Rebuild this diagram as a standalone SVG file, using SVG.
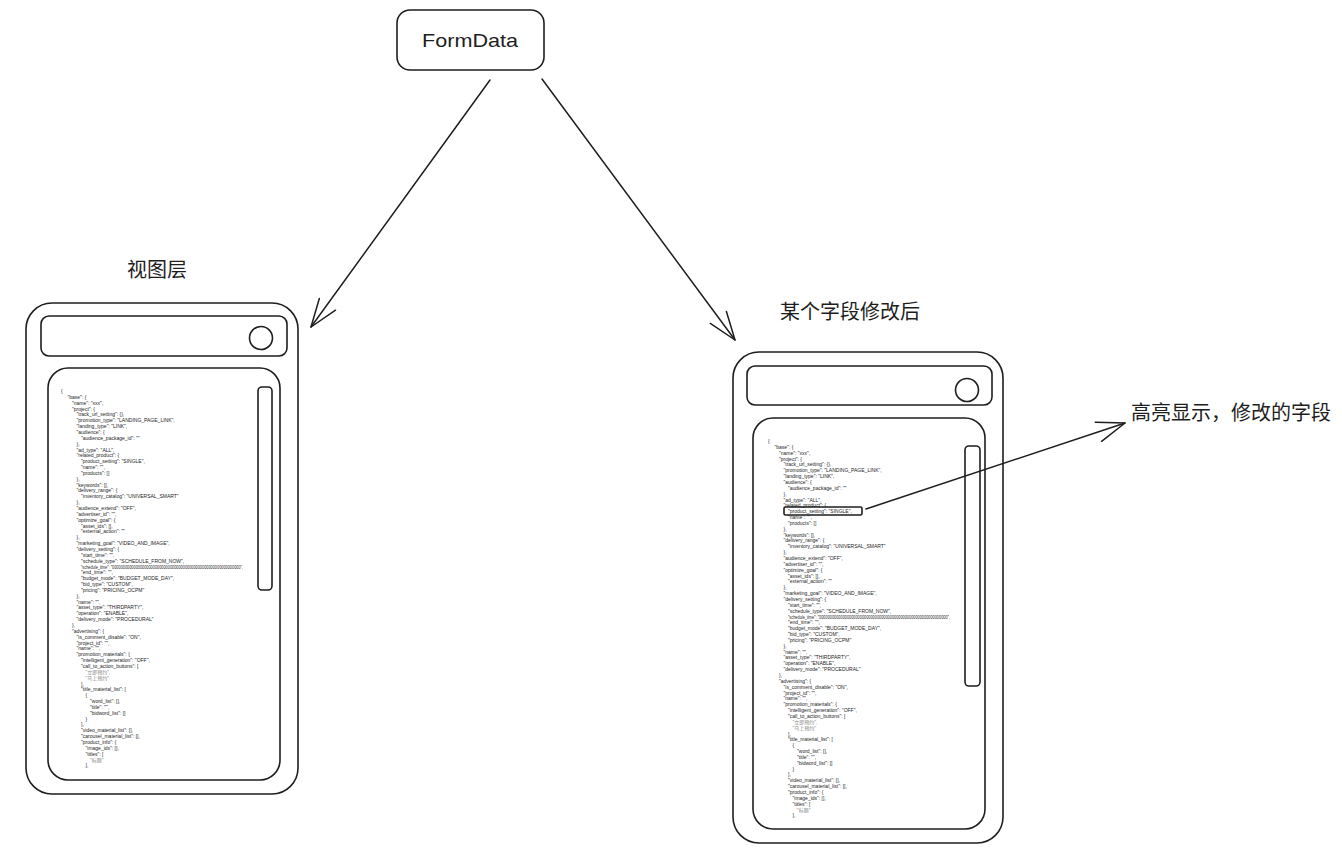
<svg xmlns="http://www.w3.org/2000/svg" xmlns:xlink="http://www.w3.org/1999/xlink" width="1342" height="853" viewBox="0 0 1342 853">
<style>
.s{fill:none;stroke:#1e1e1e;stroke-width:1.6;stroke-linecap:round;stroke-linejoin:round}
.lbl{font-family:"Liberation Sans","Noto Sans CJK SC",sans-serif;font-size:20px;fill:#1e1e1e}
.code{font-family:"Liberation Sans","Noto Sans CJK SC",sans-serif;font-size:5px;fill:#1e1e1e}
.cjk{fill:#888}
.conn{fill:none;stroke:#1e1e1e;stroke-width:1.5;stroke-linecap:round}
</style>
<defs>
<marker id="ah" markerUnits="userSpaceOnUse" viewBox="-32 -14 36 28" refX="0" refY="0" markerWidth="36" markerHeight="28" orient="auto">
<path d="M-28,-10 L0,0 L-28,10" fill="none" stroke="#1e1e1e" stroke-width="1.5" stroke-linecap="round" stroke-linejoin="round"/>
</marker>
<g id="json" class="code">
<text>
<tspan x="61" y="393">{</tspan>
<tspan x="67.5" dy="5.85">"base": {</tspan>
<tspan x="72" dy="5.85">"name": "xxx",</tspan>
<tspan x="72" dy="5.85">"project": {</tspan>
<tspan x="76.5" dy="5.85">"track_url_setting": {},</tspan>
<tspan x="76.5" dy="5.85">"promotion_type": "LANDING_PAGE_LINK",</tspan>
<tspan x="76.5" dy="5.85">"landing_type": "LINK",</tspan>
<tspan x="76.5" dy="5.85">"audience": {</tspan>
<tspan x="81" dy="5.85">"audience_package_id": ""</tspan>
<tspan x="76.5" dy="5.85">},</tspan>
<tspan x="76.5" dy="5.85">"ad_type": "ALL",</tspan>
<tspan x="76.5" dy="5.85">"related_product": {</tspan>
<tspan x="81" dy="5.85">"product_setting": "SINGLE",</tspan>
<tspan x="81" dy="5.85">"name": "",</tspan>
<tspan x="81" dy="5.85">"products": []</tspan>
<tspan x="76.5" dy="5.85">},</tspan>
<tspan x="76.5" dy="5.85">"keywords": [],</tspan>
<tspan x="76.5" dy="5.85">"delivery_range": {</tspan>
<tspan x="81" dy="5.85">"inventory_catalog": "UNIVERSAL_SMART"</tspan>
<tspan x="76.5" dy="5.85">},</tspan>
<tspan x="76.5" dy="5.85">"audience_extend": "OFF",</tspan>
<tspan x="76.5" dy="5.85">"advertiser_id": "",</tspan>
<tspan x="76.5" dy="5.85">"optimize_goal": {</tspan>
<tspan x="81" dy="5.85">"asset_ids": [],</tspan>
<tspan x="81" dy="5.85">"external_action": ""</tspan>
<tspan x="76.5" dy="5.85">},</tspan>
<tspan x="76.5" dy="5.85">"marketing_goal": "VIDEO_AND_IMAGE",</tspan>
<tspan x="76.5" dy="5.85">"delivery_setting": {</tspan>
<tspan x="81" dy="5.85">"start_time": "",</tspan>
<tspan x="81" dy="5.85">"schedule_type": "SCHEDULE_FROM_NOW",</tspan>
<tspan x="81" dy="5.85" textLength="162" lengthAdjust="spacingAndGlyphs">"schedule_time": "000000000000000000000000000000000000000000000000000000000000",</tspan>
<tspan x="81" dy="5.85">"end_time": "",</tspan>
<tspan x="81" dy="5.85">"budget_mode": "BUDGET_MODE_DAY",</tspan>
<tspan x="81" dy="5.85">"bid_type": "CUSTOM",</tspan>
<tspan x="81" dy="5.85">"pricing": "PRICING_OCPM"</tspan>
<tspan x="76.5" dy="5.85">},</tspan>
<tspan x="76.5" dy="5.85">"name": "",</tspan>
<tspan x="76.5" dy="5.85">"asset_type": "THIRDPARTY",</tspan>
<tspan x="76.5" dy="5.85">"operation": "ENABLE",</tspan>
<tspan x="76.5" dy="5.85">"delivery_mode": "PROCEDURAL"</tspan>
<tspan x="72" dy="5.85">},</tspan>
<tspan x="72" dy="5.85">"advertising": {</tspan>
<tspan x="76.5" dy="5.85">"is_comment_disable": "ON",</tspan>
<tspan x="76.5" dy="5.85">"project_id": "",</tspan>
<tspan x="76.5" dy="5.85">"name": "",</tspan>
<tspan x="76.5" dy="5.85">"promotion_materials": {</tspan>
<tspan x="81" dy="5.85">"intelligent_generation": "OFF",</tspan>
<tspan x="81" dy="5.85">"call_to_action_buttons": [</tspan>
<tspan x="85.5" dy="5.85" class="cjk">"立即预约",</tspan>
<tspan x="85.5" dy="5.85" class="cjk">"马上预约"</tspan>
<tspan x="81" dy="5.85">],</tspan>
<tspan x="81" dy="5.85">"title_material_list": [</tspan>
<tspan x="85.5" dy="5.85">{</tspan>
<tspan x="90" dy="5.85">"word_list": [],</tspan>
<tspan x="90" dy="5.85">"title": "",</tspan>
<tspan x="90" dy="5.85">"bidword_list": []</tspan>
<tspan x="85.5" dy="5.85">}</tspan>
<tspan x="81" dy="5.85">],</tspan>
<tspan x="81" dy="5.85">"video_material_list": [],</tspan>
<tspan x="81" dy="5.85">"carousel_material_list": [],</tspan>
<tspan x="81" dy="5.85">"product_info": {</tspan>
<tspan x="85.5" dy="5.85">"image_ids": [],</tspan>
<tspan x="85.5" dy="5.85">"titles": [</tspan>
<tspan x="90" dy="5.85" class="cjk">"标题"</tspan>
<tspan x="85.5" dy="5.85">],</tspan>
</text>
</g>
</defs>
<rect width="1342" height="853" fill="#ffffff"/>

<g id="formdata">
<rect class="s" x="397" y="10" width="147" height="60" rx="13"/>
<text x="470" y="47" text-anchor="middle" font-family="Liberation Sans, sans-serif" font-size="19" fill="#1e1e1e" textLength="96" lengthAdjust="spacingAndGlyphs">FormData</text>
</g>

<g id="label-view">
<text class="lbl" x="127" y="277">视图层</text>
</g>

<g id="label-after">
<text class="lbl" x="780" y="319">某个字段修改后</text>
</g>

<g id="label-highlight">
<text class="lbl" x="1131" y="420">高亮显示，修改的字段</text>
</g>

<g id="phone-left">
<rect class="s" x="26" y="303" width="272" height="491" rx="26"/>
<rect class="s" x="41" y="316" width="246" height="40" rx="8"/>
<circle class="s" cx="261" cy="338" r="11.5"/>
<rect class="s" x="48" y="368" width="232" height="412" rx="20"/>
<rect class="s" x="258" y="387" width="14" height="203" rx="4"/>
<use xlink:href="#json" href="#json"/>
</g>

<g id="phone-right">
<rect class="s" x="733" y="352" width="270" height="491" rx="26"/>
<rect class="s" x="747" y="366" width="245" height="39" rx="8"/>
<circle class="s" cx="967" cy="390" r="11.5"/>
<rect class="s" x="753" y="418" width="232" height="411" rx="20"/>
<rect class="s" x="965" y="446" width="15" height="240" rx="4"/>
<use xlink:href="#json" href="#json" transform="translate(707,50)"/>
<rect class="s" x="784" y="507" width="78" height="8" rx="1.5" stroke-width="1.2"/>
</g>

<g id="connectors">
<path class="conn" d="M490,80 L311,327" marker-end="url(#ah)"/>
<path class="conn" d="M542,79 L735,340" marker-end="url(#ah)"/>
<path class="conn" d="M866,509 L1125,423" marker-end="url(#ah)"/>
</g>
</svg>
